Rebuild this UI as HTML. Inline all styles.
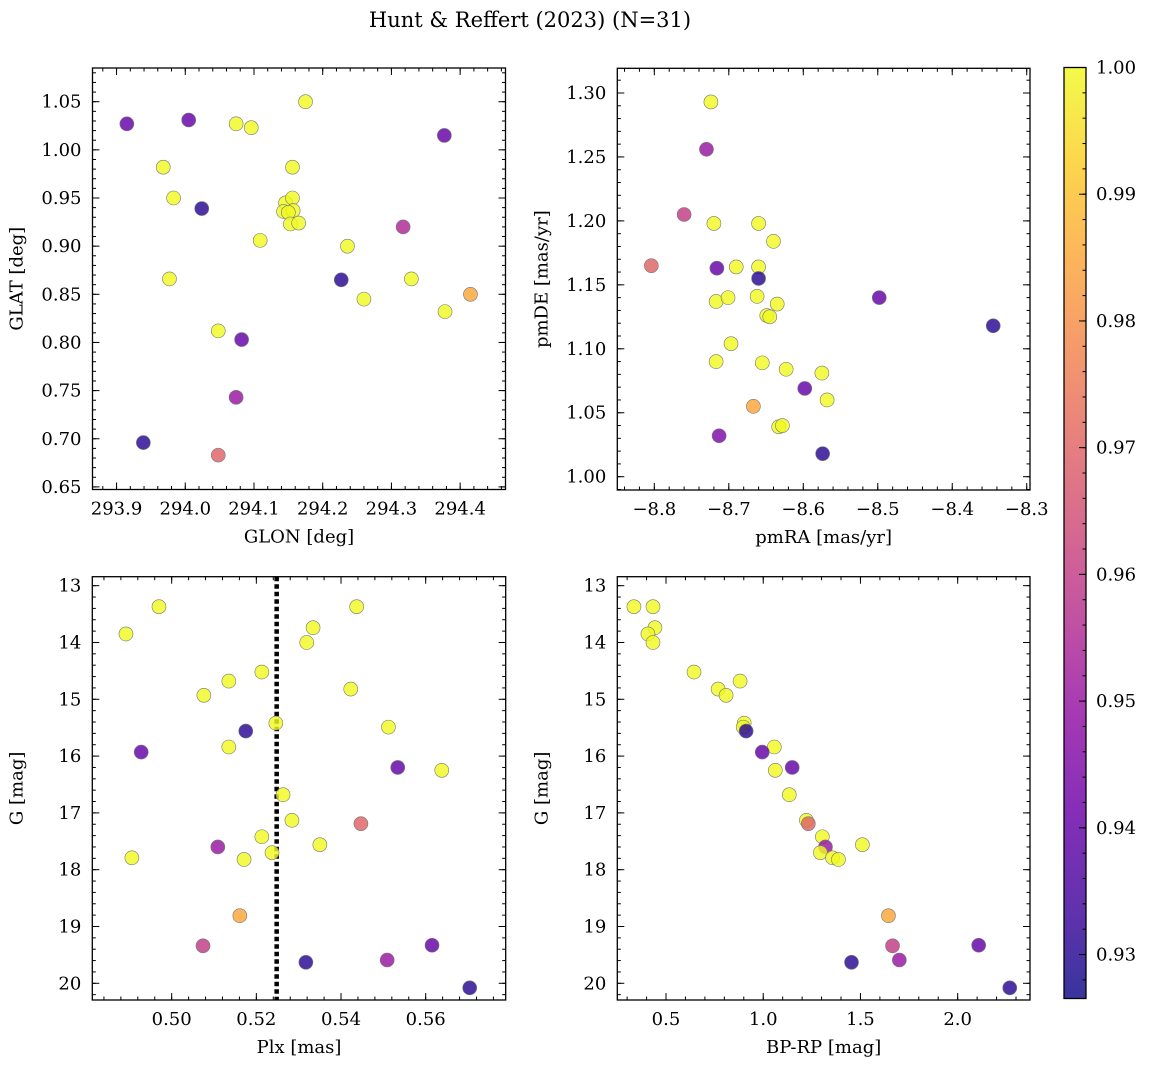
<!DOCTYPE html>
<html><head><meta charset="utf-8"><style>
html,body{margin:0;padding:0;background:#fff;}
svg{font-family:"DejaVu Serif","Liberation Serif",serif;}
</style></head><body>
<svg id="chart" width="1149" height="1067" xmlns="http://www.w3.org/2000/svg">
<text x="530" y="27" text-anchor="middle" font-size="21">Hunt &amp; Reffert (2023) (N=31)</text>
</svg>
<script>
// ---- data ----
const prob1 = [0.94,0.94,1,1,1,0.94,1,1,1,0.93,1,1,1,1,1,1,1,1,1,0.955,1,0.93,1,1,0.985,1,1,0.94,0.95,0.93,0.97];
const glon = [293.915,294.005,294.175,294.074,294.096,294.377,293.968,294.156,293.983,294.024,294.146,294.156,294.143,294.157,294.15,294.153,294.165,294.109,294.236,294.317,293.977,294.227,294.329,294.26,294.415,294.378,294.048,294.082,294.074,293.939,294.048];
const glat = [1.027,1.031,1.050,1.027,1.023,1.015,0.982,0.982,0.950,0.939,0.945,0.950,0.936,0.937,0.935,0.923,0.924,0.906,0.900,0.920,0.866,0.865,0.866,0.845,0.850,0.832,0.812,0.803,0.743,0.696,0.683];

const prob2 = [1,0.95,0.96,1,1,1,0.97,0.94,1,1,0.93,1,1,1,1,1,1,0.94,0.93,1,1,1,1,1,0.94,1,0.985,1,1,0.945,0.93];
const pmra = [-8.724,-8.73,-8.76,-8.72,-8.66,-8.64,-8.804,-8.716,-8.69,-8.66,-8.66,-8.717,-8.701,-8.662,-8.635,-8.649,-8.645,-8.498,-8.345,-8.697,-8.717,-8.655,-8.623,-8.575,-8.598,-8.568,-8.667,-8.633,-8.628,-8.713,-8.574];
const pmde = [1.293,1.256,1.205,1.198,1.198,1.184,1.165,1.163,1.164,1.164,1.155,1.137,1.140,1.141,1.135,1.126,1.125,1.140,1.118,1.104,1.090,1.089,1.084,1.081,1.069,1.060,1.055,1.039,1.040,1.032,1.018];

const prob3 = [1,1,1,1,1,1,1,1,1,1,0.93,1,1,0.94,0.94,1,1,1,0.97,1,1,0.95,1,1,1,0.985,0.96,0.94,0.93,0.95,0.93];
const plx = [0.4970,0.4892,0.5437,0.5334,0.5319,0.5213,0.5135,0.5076,0.5423,0.5246,0.5175,0.5512,0.5135,0.4928,0.5534,0.5638,0.5263,0.5284,0.5447,0.5213,0.5350,0.5109,0.5237,0.5171,0.4906,0.5161,0.5074,0.5615,0.5317,0.5509,0.5704];
const gmag3 = [13.37,13.85,13.37,13.74,14.0,14.52,14.68,14.93,14.82,15.42,15.56,15.49,15.84,15.93,16.2,16.25,16.68,17.13,17.19,17.42,17.56,17.6,17.7,17.82,17.79,18.81,19.34,19.33,19.63,19.59,20.08];
const plxLine = [0.5248];

const prob4 = [1,1,1,1,1,1,1,1,1,1,1,0.93,1,0.94,1,0.94,1,1,0.97,1,0.95,1,1,1,1,0.985,0.96,0.94,0.95,0.93,0.93];
const bprp = [0.335,0.433,0.443,0.407,0.433,0.644,0.881,0.768,0.809,0.902,0.897,0.912,1.057,0.995,1.062,1.149,1.134,1.222,1.232,1.304,1.320,1.510,1.294,1.356,1.387,1.644,1.665,2.108,1.70,1.454,2.268];
const gmag4 = [13.37,13.37,13.74,13.85,14.0,14.52,14.68,14.82,14.93,15.42,15.49,15.56,15.84,15.93,16.25,16.2,16.68,17.13,17.19,17.42,17.6,17.56,17.7,17.79,17.82,18.81,19.34,19.33,19.59,19.63,20.08];

const cbTicks = [0.93,0.94,0.95,0.96,0.97,0.98,0.99,1.00];

const NS="http://www.w3.org/2000/svg";
const svg=document.getElementById('chart');
function mk(tag,attrs,parent){const e=document.createElementNS(NS,tag);for(const k in attrs)e.setAttribute(k,attrs[k]);(parent||svg).appendChild(e);return e;}
const stops=['#0d0887','#41049d','#6a00a8','#8f0da4','#b12a90','#cc4778','#e16462','#f2844b','#fca636','#fcce25','#f0f921'];
function hex(h){return [parseInt(h.substr(1,2),16),parseInt(h.substr(3,2),16),parseInt(h.substr(5,2),16)];}
const CMIN=0.92653,CMAX=1.0;
function plasma(v){let t=(v-CMIN)/(CMAX-CMIN);t=Math.max(0,Math.min(1,t));const p=t*10,i=Math.min(9,Math.floor(p)),f=p-i;const a=hex(stops[i]),b=hex(stops[i+1]);return 'rgb('+a.map((x,k)=>Math.round(x+(b[k]-x)*f)).join(',')+')';}
function fmt(v,d){return (v<0?'\u2212':'')+Math.abs(v).toFixed(d);}

function panel(o){
  const g=mk('g',{});
  
  
  const sx=v=>o.x0+(v-o.xmin)/(o.xmax-o.xmin)*(o.x1-o.x0);
  const sy=o.invert? (v=>o.y0+(v-o.ymin)/(o.ymax-o.ymin)*(o.y1-o.y0)) : (v=>o.y1-(v-o.ymin)/(o.ymax-o.ymin)*(o.y1-o.y0));
  const frame=mk('rect',{x:o.x0,y:o.y0,width:o.x1-o.x0,height:o.y1-o.y0,fill:'none',stroke:'#000','stroke-width':1.3},g);
  
  for(let v=Math.ceil(o.xmin/o.xminor-1e-6)*o.xminor; v<=o.xmax+1e-9; v+=o.xminor){const x=sx(v);mk('line',{x1:x,x2:x,y1:o.y1,y2:o.y1-3.5,stroke:'#000'},g);mk('line',{x1:x,x2:x,y1:o.y0,y2:o.y0+3.5,stroke:'#000'},g);}
  for(let v=Math.ceil(o.ymin/o.yminor-1e-6)*o.yminor; v<=o.ymax+1e-9; v+=o.yminor){const y=sy(v);mk('line',{x1:o.x0,x2:o.x0+3.5,y1:y,y2:y,stroke:'#000'},g);mk('line',{x1:o.x1,x2:o.x1-3.5,y1:y,y2:y,stroke:'#000'},g);}
  o.xticks.forEach(v=>{const x=sx(v);mk('line',{x1:x,x2:x,y1:o.y1,y2:o.y1-7,stroke:'#000'},g);mk('line',{x1:x,x2:x,y1:o.y0,y2:o.y0+7,stroke:'#000'},g);
    const t=mk('text',{x:x,y:o.y1+25,'text-anchor':'middle','font-size':18},g);t.textContent=fmt(v,o.xd);
    });
  o.yticks.forEach(v=>{const y=sy(v);mk('line',{x1:o.x0,x2:o.x0+7,y1:y,y2:y,stroke:'#000'},g);mk('line',{x1:o.x1,x2:o.x1-7,y1:y,y2:y,stroke:'#000'},g);
    const t=mk('text',{x:o.x0-11,y:y+6,'text-anchor':'end','font-size':18},g);t.textContent=fmt(v,o.yd);
    });
  const xl=mk('text',{x:(o.x0+o.x1)/2,y:o.y1+53,'text-anchor':'middle','font-size':18},g);xl.textContent=o.xlabel;
  
  const yl=mk('text',{x:0,y:0,'text-anchor':'middle','font-size':18,transform:`translate(${o.x0-70},${(o.y0+o.y1)/2}) rotate(-90)`},g);yl.textContent=o.ylabel;
  
  if(o.vline!==undefined){const x=sx(o.vline);const l=mk('line',{x1:x,x2:x,y1:o.y0,y2:o.y1,stroke:'#000','stroke-width':4.5,'stroke-dasharray':'4.5 3'},g);
    }
  o.xs.forEach((v,i)=>{const c=mk('circle',{cx:sx(v),cy:sy(o.ys[i]),r:7,fill:plasma(o.cs[i]),'fill-opacity':0.82,stroke:'#777','stroke-width':0.6},g);
    });
}
panel({name:'glon-glat-panel',x0:92.5,x1:505.5,y0:68,y1:489.5,xmin:293.865,xmax:294.466,ymin:0.6473,ymax:1.085,xminor:0.02,yminor:0.01,
  xticks:[293.9,294.0,294.1,294.2,294.3,294.4],yticks:[0.65,0.70,0.75,0.80,0.85,0.90,0.95,1.00,1.05],xd:1,yd:2,xlabel:'GLON [deg]',ylabel:'GLAT [deg]',xs:glon,ys:glat,cs:prob1});
panel({name:'proper-motion-panel',x0:617.3,x1:1030,y0:68.3,y1:490,xmin:-8.8497,xmax:-8.2956,ymin:0.9896,ymax:1.3193,xminor:0.02,yminor:0.01,
  xticks:[-8.8,-8.7,-8.6,-8.5,-8.4,-8.3],yticks:[1.00,1.05,1.10,1.15,1.20,1.25,1.30],xd:1,yd:2,xlabel:'pmRA [mas/yr]',ylabel:'pmDE [mas/yr]',xs:pmra,ys:pmde,cs:prob2});
panel({name:'parallax-magnitude-panel',x0:92.3,x1:505.7,y0:576.7,y1:1000,xmin:0.48125,xmax:0.5789,ymin:12.842,ymax:20.294,invert:true,xminor:0.004,yminor:0.2,
  xticks:[0.50,0.52,0.54,0.56],yticks:[13,14,15,16,17,18,19,20],xd:2,yd:0,xlabel:'Plx [mas]',ylabel:'G [mag]',xs:plx,ys:gmag3,cs:prob3,vline:plxLine[0]});
panel({name:'color-magnitude-panel',x0:617.3,x1:1030,y0:576.7,y1:1000,xmin:0.2495,xmax:2.372,ymin:12.842,ymax:20.294,invert:true,xminor:0.1,yminor:0.2,
  xticks:[0.5,1.0,1.5,2.0],yticks:[13,14,15,16,17,18,19,20],xd:1,yd:0,xlabel:'BP-RP [mag]',ylabel:'G [mag]',xs:bprp,ys:gmag4,cs:prob4});

// colorbar
const cb=mk('g',{});


const defs=mk('defs',{},cb);
const grad=mk('linearGradient',{id:'cbg',x1:0,y1:1,x2:0,y2:0},defs);
stops.forEach((s,i)=>mk('stop',{offset:(i/10),'stop-color':s},grad));
const cbx0=1064,cbx1=1086,cby0=67.5,cby1=998.5;
mk('rect',{x:cbx0,y:cby0,width:cbx1-cbx0,height:cby1-cby0,fill:'url(#cbg)','fill-opacity':0.82},cb);
mk('rect',{x:cbx0,y:cby0,width:cbx1-cbx0,height:cby1-cby0,fill:'none',stroke:'#000','stroke-width':1.3},cb);
const cy=v=>cby1-(v-CMIN)/(CMAX-CMIN)*(cby1-cby0);
for(let v=0.928;v<=1.0001;v+=0.002){const y=cy(v);mk('line',{x1:cbx1,x2:cbx1-3.5,y1:y,y2:y,stroke:'#000'},cb);}
cbTicks.forEach(v=>{const y=cy(v);mk('line',{x1:cbx1,x2:cbx1-7,y1:y,y2:y,stroke:'#000'},cb);
  const t=mk('text',{x:cbx1+10,y:y+6,'font-size':18},cb);t.textContent=v.toFixed(2);
  });
</script>
</body></html>
